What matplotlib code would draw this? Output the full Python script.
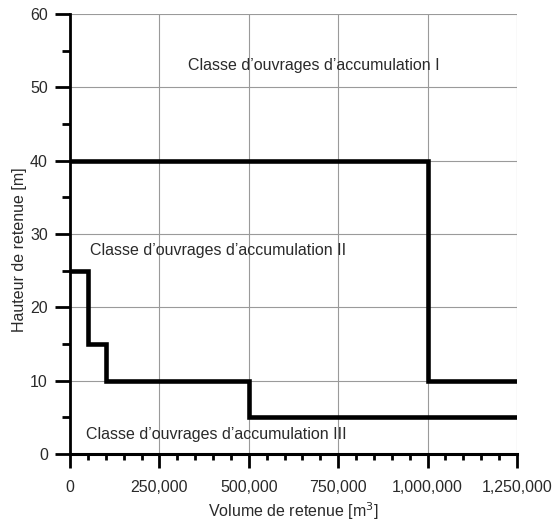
import matplotlib
matplotlib.use("Agg")
import matplotlib.pyplot as plt
from matplotlib.ticker import MultipleLocator, FuncFormatter

plt.rcParams['font.family'] = ['Liberation Sans', 'DejaVu Sans']

# Class I / II boundary
line1_x = [0, 1000000, 1000000, 1250000]
line1_y = [40, 40, 10, 10]
# Class II / III boundary
line2_x = [0, 50000, 50000, 100000, 100000, 500000, 500000, 1250000]
line2_y = [25, 25, 15, 15, 10, 10, 5, 5]

labels = ["Classe d\u2019ouvrages d\u2019accumulation I",
          "Classe d\u2019ouvrages d\u2019accumulation II",
          "Classe d\u2019ouvrages d\u2019accumulation III"]
label_x = [330000, 56000, 45000]
label_y = [53.0, 27.8, 2.7]

TXT = '#2a2a2a'
FS = 11.5

fig = plt.figure(figsize=(5.6, 5.23), dpi=100)
# axes: left 70px, right 517px, top 14px, bottom 454px
ax = fig.add_axes([70 / 560, 69 / 523, 447 / 560, 440 / 523])

ax.plot(line1_x, line1_y, color='black', lw=3.3, solid_joinstyle='miter', zorder=3)
ax.plot(line2_x, line2_y, color='black', lw=3.3, solid_joinstyle='miter', zorder=3)

for t, x, y in zip(labels, label_x, label_y):
    ax.text(x, y, t, fontsize=FS, color=TXT, va='center', ha='left')

ax.set_xlim(0, 1250000)
ax.set_ylim(0, 60)
ax.xaxis.set_major_locator(MultipleLocator(250000))
ax.xaxis.set_minor_locator(MultipleLocator(50000))
ax.yaxis.set_major_locator(MultipleLocator(10))
ax.yaxis.set_minor_locator(MultipleLocator(5))
ax.xaxis.set_major_formatter(FuncFormatter(lambda v, p: f"{int(v):,}"))

ax.grid(True, which='major', color='#9a9a9a', lw=0.8)
ax.set_axisbelow(True)
for s in ['top', 'right']:
    ax.spines[s].set_visible(False)
ax.spines['left'].set_linewidth(2.0)
ax.spines['bottom'].set_linewidth(2.2)
ax.tick_params(which='major', direction='out', width=2, labelsize=FS, labelcolor=TXT)
ax.tick_params(which='minor', direction='out', width=2)
ax.tick_params(axis='x', which='major', length=10, pad=9)
ax.tick_params(axis='x', which='minor', length=4.5)
ax.tick_params(axis='y', which='major', length=11, pad=5)
ax.tick_params(axis='y', which='minor', length=6)

ax.set_xlabel("Volume de retenue [m$^3$]", fontsize=FS, color=TXT, va='baseline')
ax.set_ylabel("Hauteur de retenue [m]", fontsize=FS, color=TXT)
ax.xaxis.set_label_coords(0.5, (6.5 - 69) / 440)
ax.yaxis.set_label_coords((27 - 70) / 447, (523 - 250 - 69) / 440)

fig.savefig("out.png", dpi=100)
